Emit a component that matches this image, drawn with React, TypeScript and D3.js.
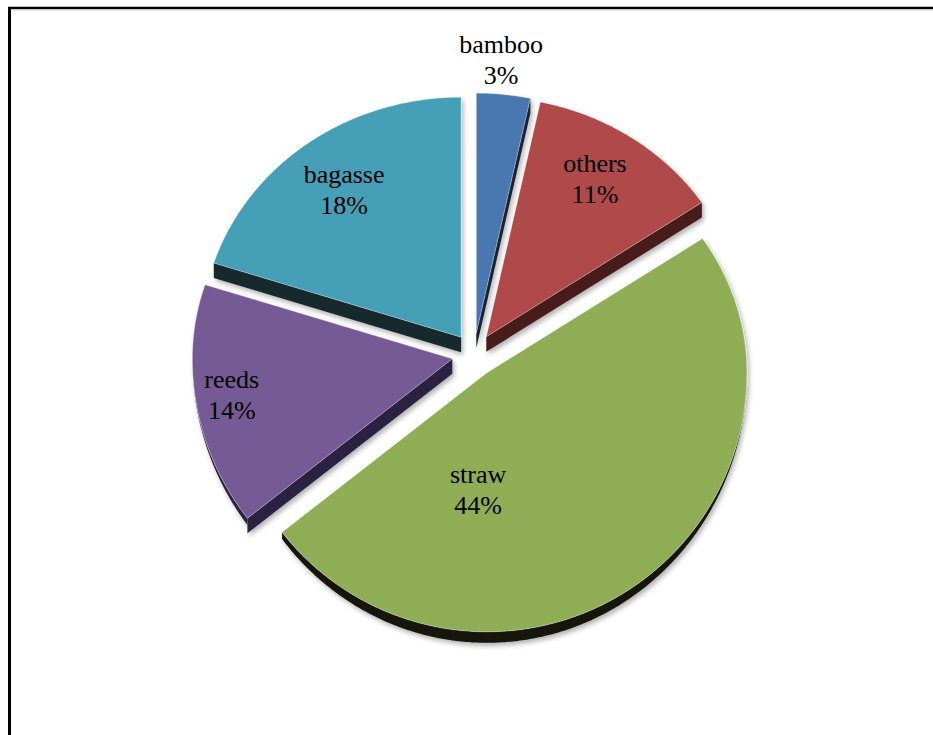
import React from "react";
import * as d3 from "d3";

// ---- data ----
const categories = ["bamboo", "others", "straw", "reeds", "bagasse"];
const values = [3, 11, 44, 14, 18];

// ---- styles ----
const faceColors = ["#4a78b0", "#b0494a", "#8fad55", "#765a95", "#449fb6"];
const wallColors = ["#1a2433", "#4a1c1c", "#15180d", "#2c2240", "#13292f"];
// label placement in each slice's polar frame (deg clockwise from 12 o'clock, radius fraction)
const labelAngles = [4.8, 32.4, 184.3, 260.6, 323.8];
const labelRadii = [1.14, 0.78, 0.454, 0.86, 0.762];

const W = 933;
const H = 735;
const CX = 474;
const CY = 355;
const RX = 260;
const RY_TOP = 240;
const RY_BOT = 259;
const EXPLODE = 22;
const DEPTH = 15;
const RIM_DEPTH = 11;

type P = [number, number];

function proj(a: number, r: number, ox: number, oy: number): P {
  const c = Math.cos(a);
  const s = Math.sin(a);
  const ry = c > 0 ? RY_TOP : RY_BOT;
  return [CX + ox + r * RX * s, CY + oy - r * ry * c];
}

function samples(a0: number, a1: number): number[] {
  const n = Math.max(2, Math.ceil((a1 - a0) / (Math.PI / 360)));
  return d3.range(n + 1).map((i) => a0 + ((a1 - a0) * i) / n);
}

const line = d3.line<P>().x((d) => d[0]).y((d) => d[1]);

export default function App() {
  const arcs = d3
    .pie<number>()
    .sort(null)
    .value((d) => d)
    .startAngle(0)
    .endAngle(2 * Math.PI)(values);

  const slices = arcs.map((arc, i) => {
    const a0 = arc.startAngle;
    const a1 = arc.endAngle;
    const mid = (a0 + a1) / 2;
    const ox = EXPLODE * Math.sin(mid);
    const oy = -EXPLODE * Math.cos(mid);
    const apex: P = [CX + ox, CY + oy];
    const rim = samples(a0, a1).map((a) => proj(a, 1, ox, oy));
    const face = line([apex, ...rim])! + "Z";

    const walls: string[] = [];
    // start radial edge: visible when sin(a0) < 0
    if (Math.sin(a0) < -0.01) {
      const r = proj(a0, 1, ox, oy);
      walls.push(
        line([apex, r, [r[0], r[1] + DEPTH], [apex[0], apex[1] + DEPTH]])! + "Z"
      );
    }
    // end radial edge: visible when sin(a1) > 0
    if (Math.sin(a1) > 0.01) {
      const r = proj(a1, 1, ox, oy);
      walls.push(
        line([apex, r, [r[0], r[1] + DEPTH], [apex[0], apex[1] + DEPTH]])! + "Z"
      );
    }
    // outer rim wall: visible between 90deg and 270deg
    const lo = Math.max(a0, Math.PI / 2);
    const hi = Math.min(a1, (3 * Math.PI) / 2);
    if (hi > lo) {
      const as = samples(lo, hi);
      const top = as.map((a) => proj(a, 1, ox, oy));
      const bot = as
        .map((a) => {
          const p = proj(a, 1, ox, oy);
          return [p[0], p[1] + RIM_DEPTH * Math.max(0, -Math.cos(a))] as P;
        })
        .reverse();
      walls.push(line([...top, ...bot])! + "Z");
    }

    const la = (labelAngles[i] * Math.PI) / 180;
    const lp = proj(la, labelRadii[i], ox, oy);

    return { i, apex, face, walls, lp };
  });

  const order = [...slices].sort((a, b) => a.apex[1] - b.apex[1]);

  return (
    <svg
      width={W}
      height={H}
      viewBox={`0 0 ${W} ${H}`}
      style={{ position: "absolute", left: 0, top: 0, background: "#fff" }}
    >
      <defs>
        <filter id="shadow" x="-20%" y="-20%" width="140%" height="140%">
          <feDropShadow dx="2" dy="3" stdDeviation="2.5" floodColor="#000" floodOpacity="0.3" />
        </filter>
        <linearGradient id="rimShade" x1="0" y1="0" x2="1" y2="0">
          <stop offset="0" stopColor="#000" stopOpacity="0.1" />
          <stop offset="1" stopColor="#000" stopOpacity="0" />
        </linearGradient>
      </defs>
      <rect x={0} y={0} width={W} height={H} fill="#fff" />
      {/* frame */}
      <line x1={8} y1={8} x2={W} y2={8} stroke="#000" strokeWidth={2.5} />
      <line x1={9.5} y1={7} x2={9.5} y2={H} stroke="#000" strokeWidth={3} />
      <line x1={11} y1={10} x2={W} y2={10} stroke="#ccc" strokeWidth={1} />

      {order.map((s) => (
        <g key={categories[s.i]} filter="url(#shadow)">
          {s.walls.map((w, k) => (
            <path key={k} d={w} fill={wallColors[s.i]} />
          ))}
          <path
            d={s.face}
            fill={faceColors[s.i]}
            stroke="#ffffff"
            strokeOpacity={0.35}
            strokeWidth={1}
            strokeLinejoin="round"
          />
        </g>
      ))}

      {slices.map((s) => (
        <text
          key={"l" + s.i}
          x={s.lp[0]}
          textAnchor="middle"
          fontFamily="'Liberation Serif', 'Times New Roman', serif"
          fontSize={26}
          fill="#000"
        >
          <tspan x={s.lp[0]} y={s.lp[1] - 7}>
            {categories[s.i]}
          </tspan>
          <tspan x={s.lp[0]} y={s.lp[1] + 24}>
            {values[s.i] + "%"}
          </tspan>
        </text>
      ))}
    </svg>
  );
}
